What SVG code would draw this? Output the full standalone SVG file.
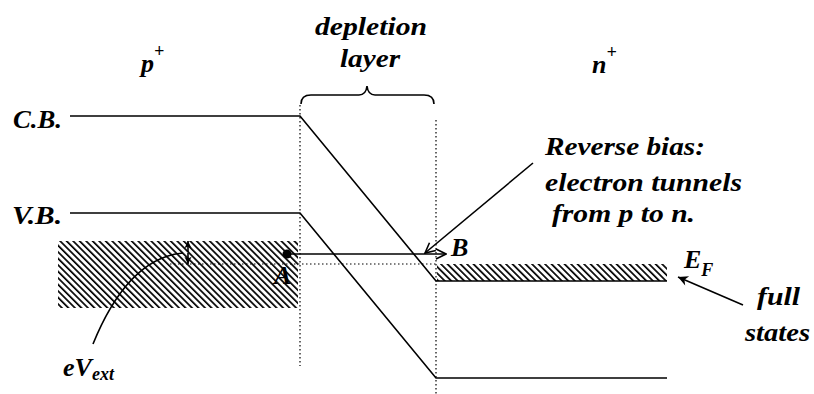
<svg xmlns="http://www.w3.org/2000/svg" width="814" height="394" viewBox="0 0 814 394">
<defs>
<style>
text{font-family:'Liberation Serif', 'DejaVu Serif', serif;font-weight:700;font-style:italic;fill:#000;font-size:26px}
.ln{stroke:#000;stroke-width:1.6;fill:none}
.dot{stroke:#000;stroke-width:1.2;stroke-dasharray:1.5 2.5;fill:none}
.sup{font-size:18px}
</style>
<pattern id="hatch" patternUnits="userSpaceOnUse" width="4.6" height="10" patternTransform="rotate(-45)">
<rect x="0" y="0" width="1.7" height="10" fill="#000"/>
</pattern>
<marker id="arr" viewBox="0 0 12 12" refX="11" refY="6" markerWidth="12" markerHeight="12" markerUnits="userSpaceOnUse" orient="auto">
<path d="M1,1 L11,6 L1,11" fill="none" stroke="#000" stroke-width="1.6"/>
</marker>
<marker id="arrf" viewBox="0 0 12 12" refX="11" refY="6" markerWidth="12" markerHeight="12" markerUnits="userSpaceOnUse" orient="auto">
<path d="M1,1 L11,6 L1,11 L4,6 Z" fill="#000"/>
</marker>
<marker id="arrs" viewBox="0 0 10 10" refX="9" refY="5" markerWidth="9" markerHeight="9" markerUnits="userSpaceOnUse" orient="auto">
<path d="M1,1 L9,5 L1,9 L3,5 Z" fill="#000"/>
</marker>
</defs>
<rect width="814" height="394" fill="#fff"/>

<g id="p-region">
<rect x="58" y="241" width="240" height="67" fill="url(#hatch)"/>
<text x="141" y="72">p<tspan class="sup" dy="-15">+</tspan></text>
</g>

<g id="n-region">
<rect x="437" y="264" width="230" height="17" fill="url(#hatch)"/>
<text x="592" y="73">n<tspan class="sup" dy="-15">+</tspan></text>
</g>

<g id="depletion-layer">
<text x="315" y="35" textLength="112" lengthAdjust="spacingAndGlyphs">depletion</text>
<text x="340" y="67" textLength="60" lengthAdjust="spacingAndGlyphs">layer</text>
<path class="ln" d="M301,104 Q301,95 311,95 L359,95 Q366,95 367,86 Q368,95 375,95 L424,95 Q434,95 434,104"/>
<line class="dot" x1="300" y1="105" x2="300" y2="366"/>
<line class="dot" x1="436" y1="120" x2="436" y2="394"/>
</g>

<g id="conduction-band">
<text x="13" y="128" textLength="49" lengthAdjust="spacingAndGlyphs">C.B.</text>
<polyline class="ln" points="70,116 300,116 436,281 667,281"/>
</g>

<g id="valence-band">
<text x="12" y="224" textLength="50" lengthAdjust="spacingAndGlyphs">V.B.</text>
<polyline class="ln" points="70,213 300,213 436,378 667,378"/>
</g>

<g id="fermi-level">
<text x="684" y="268">E<tspan class="sup" dy="8">F</tspan></text>
</g>

<g id="point-A">
<circle cx="287" cy="254" r="4.5" fill="#000"/>
<text x="274" y="284">A</text>
</g>

<g id="point-B">
<text x="451" y="256">B</text>
</g>

<g id="label-reverse">
<text x="545" y="155" textLength="160" lengthAdjust="spacingAndGlyphs">Reverse bias:</text>
<text x="545" y="191" textLength="197" lengthAdjust="spacingAndGlyphs">electron tunnels</text>
<text x="552" y="222" textLength="143" lengthAdjust="spacingAndGlyphs">from p to n.</text>
</g>

<g id="label-full">
<text x="757" y="305" textLength="43" lengthAdjust="spacingAndGlyphs">full</text>
<text x="745" y="341" textLength="65" lengthAdjust="spacingAndGlyphs">states</text>
</g>

<g id="label-eVext">
<text x="63" y="376">eV<tspan class="sup" dy="4">ext</tspan></text>
</g>

<g id="connectors">
<line class="dot" x1="170" y1="264" x2="436" y2="264"/>
<line class="ln" x1="287" y1="254" x2="446" y2="254" marker-end="url(#arr)"/>
<line class="ln" x1="533" y1="163" x2="425" y2="253" marker-end="url(#arr)"/>
<line class="ln" x1="743" y1="305" x2="678" y2="277" marker-end="url(#arrf)"/>
<line class="ln" x1="188" y1="252" x2="188" y2="241" marker-end="url(#arrs)"/>
<line class="ln" x1="188" y1="253" x2="188" y2="264" marker-end="url(#arrs)"/>
<path class="ln" d="M93,344 Q128,258 183,253"/>
</g>
</svg>
